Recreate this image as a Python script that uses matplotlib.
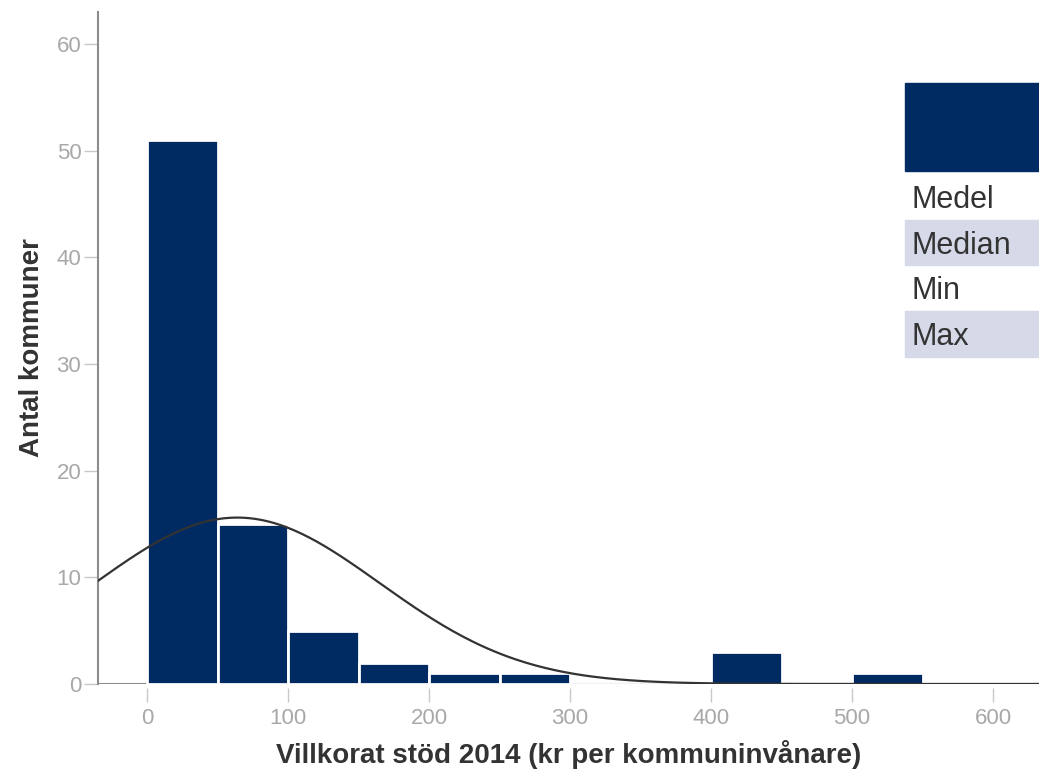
import numpy as np
import matplotlib.pyplot as plt
from matplotlib.patches import Rectangle

# histogram data (bins of 50 kr)
bin_edges = [0, 50, 100, 150, 200, 250, 300, 350, 400, 450, 500, 550]
counts = [51, 15, 5, 2, 1, 1, 0, 0, 3, 0, 1]

# fitted normal curve parameters
curve_mean = 64
curve_sd = 101

legend_rows = ['Medel', 'Median', 'Min', 'Max']

NAVY = '#002b62'
LAV = '#d5d9e8'
GRAY = '#a8a8a8'
DARK = '#333333'

plt.rcParams['font.family'] = ['Liberation Sans', 'DejaVu Sans']

fig = plt.figure(figsize=(10.39, 7.71), dpi=100)
ax = fig.add_axes([98/1039, 1-684/771, 1-98/1039, (684-12)/771])

edges = np.array(bin_edges)
ax.bar(edges[:-1], counts, width=np.diff(edges), align='edge',
       color=NAVY, edgecolor='white', linewidth=2, zorder=2)

n = sum(counts)
bw = 50
xs = np.linspace(-40, 640, 400)
ys = n * bw / (curve_sd * np.sqrt(2*np.pi)) * np.exp(-0.5*((xs-curve_mean)/curve_sd)**2)
ax.plot(xs, ys, color=DARK, linewidth=1.6, zorder=3)

ax.set_xlim(-34.75, 632.6)
ax.set_ylim(0, 63)
ax.axhline(0, color='#8c8c8c', linewidth=1.5, zorder=1)

for s in ['top', 'right']:
    ax.spines[s].set_visible(False)
ax.spines['bottom'].set_visible(False)
ax.spines['bottom'].set_position(('outward', 3))
ax.spines['left'].set_color('#8c8c8c')
ax.spines['left'].set_linewidth(1.5)

ax.set_xticks(range(0, 601, 100))
ax.set_yticks(range(0, 61, 10))
ax.tick_params(axis='both', colors='#c8c8c8', labelcolor=GRAY, labelsize=16,
               length=10, width=1)
ax.tick_params(axis='y', pad=2)
ax.tick_params(axis='x', pad=4)

ax.set_xlabel('Villkorat stöd 2014 (kr per kommuninvånare)', fontsize=20,
              fontweight='bold', color=DARK, labelpad=8)
ax.set_ylabel('Antal kommuner', fontsize=20, fontweight='bold', color=DARK, labelpad=8)

# legend panel on the right
W, H = 1039, 771
fig.patches.append(Rectangle((905/W, 1-171/H), (W-905)/W, 88/H,
                             transform=fig.transFigure, color=NAVY))
row_top = 174
row_h = 45.7
for i, lab in enumerate(legend_rows):
    top = row_top + i*row_h
    if i % 2 == 1:
        fig.patches.append(Rectangle((905/W, 1-(top+row_h)/H), (W-905)/W, row_h/H,
                                     transform=fig.transFigure, color=LAV))
    fig.text(911/W, 1-(top+row_h/2+3)/H, lab, fontsize=22, color=DARK,
             va='center', ha='left')

fig.savefig('out.png', dpi=100)
